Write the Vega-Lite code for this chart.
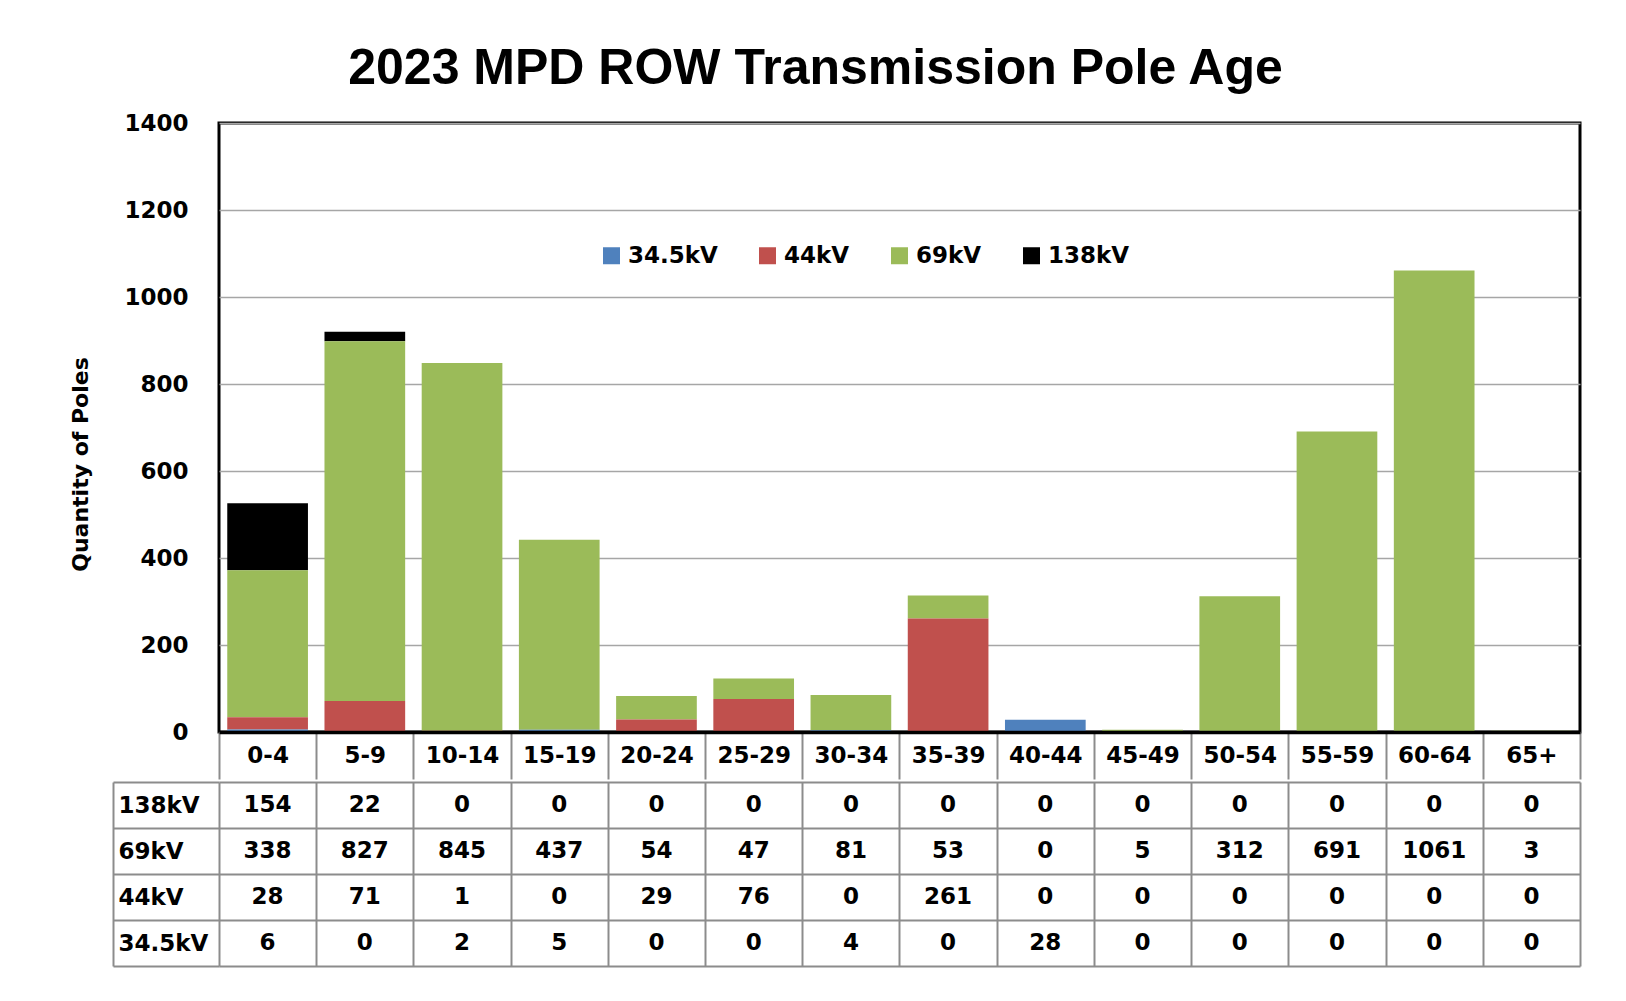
{
  "$schema": "https://vega.github.io/schema/vega-lite/v6.json",
  "background": "white",
  "padding": {"left": 68, "top": 43, "right": 40, "bottom": 20},
  "title": {"text": "2023 MPD ROW Transmission Pole Age", "font": "Liberation Sans", "fontSize": 50, "fontWeight": "bold", "color": "#000000", "anchor": "middle", "offset": 17, "dx": -10},
  "spacing": -15,
  "config": {"view": {"stroke": null}, "font": "DejaVu Sans"},
  "data": {"values": [
    {"age": "0-4", "series": "138kV", "value": 154}, {"age": "0-4", "series": "69kV", "value": 338}, {"age": "0-4", "series": "44kV", "value": 28}, {"age": "0-4", "series": "34.5kV", "value": 6},
    {"age": "5-9", "series": "138kV", "value": 22}, {"age": "5-9", "series": "69kV", "value": 827}, {"age": "5-9", "series": "44kV", "value": 71}, {"age": "5-9", "series": "34.5kV", "value": 0},
    {"age": "10-14", "series": "138kV", "value": 0}, {"age": "10-14", "series": "69kV", "value": 845}, {"age": "10-14", "series": "44kV", "value": 1}, {"age": "10-14", "series": "34.5kV", "value": 2},
    {"age": "15-19", "series": "138kV", "value": 0}, {"age": "15-19", "series": "69kV", "value": 437}, {"age": "15-19", "series": "44kV", "value": 0}, {"age": "15-19", "series": "34.5kV", "value": 5},
    {"age": "20-24", "series": "138kV", "value": 0}, {"age": "20-24", "series": "69kV", "value": 54}, {"age": "20-24", "series": "44kV", "value": 29}, {"age": "20-24", "series": "34.5kV", "value": 0},
    {"age": "25-29", "series": "138kV", "value": 0}, {"age": "25-29", "series": "69kV", "value": 47}, {"age": "25-29", "series": "44kV", "value": 76}, {"age": "25-29", "series": "34.5kV", "value": 0},
    {"age": "30-34", "series": "138kV", "value": 0}, {"age": "30-34", "series": "69kV", "value": 81}, {"age": "30-34", "series": "44kV", "value": 0}, {"age": "30-34", "series": "34.5kV", "value": 4},
    {"age": "35-39", "series": "138kV", "value": 0}, {"age": "35-39", "series": "69kV", "value": 53}, {"age": "35-39", "series": "44kV", "value": 261}, {"age": "35-39", "series": "34.5kV", "value": 0},
    {"age": "40-44", "series": "138kV", "value": 0}, {"age": "40-44", "series": "69kV", "value": 0}, {"age": "40-44", "series": "44kV", "value": 0}, {"age": "40-44", "series": "34.5kV", "value": 28},
    {"age": "45-49", "series": "138kV", "value": 0}, {"age": "45-49", "series": "69kV", "value": 5}, {"age": "45-49", "series": "44kV", "value": 0}, {"age": "45-49", "series": "34.5kV", "value": 0},
    {"age": "50-54", "series": "138kV", "value": 0}, {"age": "50-54", "series": "69kV", "value": 312}, {"age": "50-54", "series": "44kV", "value": 0}, {"age": "50-54", "series": "34.5kV", "value": 0},
    {"age": "55-59", "series": "138kV", "value": 0}, {"age": "55-59", "series": "69kV", "value": 691}, {"age": "55-59", "series": "44kV", "value": 0}, {"age": "55-59", "series": "34.5kV", "value": 0},
    {"age": "60-64", "series": "138kV", "value": 0}, {"age": "60-64", "series": "69kV", "value": 1061}, {"age": "60-64", "series": "44kV", "value": 0}, {"age": "60-64", "series": "34.5kV", "value": 0},
    {"age": "65+", "series": "138kV", "value": 0}, {"age": "65+", "series": "69kV", "value": 3}, {"age": "65+", "series": "44kV", "value": 0}, {"age": "65+", "series": "34.5kV", "value": 0}
  ]},
  "vconcat": [
    {
      "width": 1361,
      "height": 609,
      "view": {"stroke": "#000000", "strokeWidth": 3},
      "transform": [{"calculate": "indexof(['34.5kV', '44kV', '69kV', '138kV'], datum.series)", "as": "stackOrder"}],
      "mark": {"type": "bar", "width": {"band": 0.83}},
      "encoding": {
        "x": {
          "field": "age", "type": "nominal",
          "sort": ["0-4", "5-9", "10-14", "15-19", "20-24", "25-29", "30-34", "35-39", "40-44", "45-49", "50-54", "55-59", "60-64", "65+"],
          "scale": {"paddingInner": 0, "paddingOuter": 0},
          "axis": {"title": null, "orient": "bottom", "zindex": 1, "tickBand": "extent", "tickSize": 47, "tickColor": "#8c8c8c", "tickWidth": 2, "domain": true, "domainColor": "#000000", "domainWidth": 3.5, "labelAngle": 0, "labelPadding": -23.5, "labelBaseline": "middle", "labelFont": "DejaVu Sans", "labelFontSize": 23, "labelFontWeight": "bold", "labelColor": "#000000", "grid": false}
        },
        "y": {
          "field": "value", "type": "quantitative", "stack": "zero",
          "scale": {"domain": [0, 1400], "nice": false},
          "axis": {"title": "Quantity of Poles", "values": [0, 200, 400, 600, 800, 1000, 1200, 1400], "format": "d", "domain": false, "ticks": false, "labelPadding": 31, "labelFlush": false, "labelFont": "DejaVu Sans", "labelFontSize": 23, "labelFontWeight": "bold", "labelColor": "#000000", "grid": true, "gridColor": "#a6a6a6", "gridWidth": 1.5, "titleFont": "DejaVu Sans", "titleFontSize": 22, "titleFontWeight": "bold", "titleColor": "#000000", "titlePadding": 31, "titleY": 341}
        },
        "order": {"field": "stackOrder", "type": "quantitative", "sort": "ascending"},
        "color": {
          "field": "series", "type": "nominal",
          "sort": ["34.5kV", "44kV", "69kV", "138kV"],
          "scale": {"domain": ["34.5kV", "44kV", "69kV", "138kV"], "range": ["#4f81bd", "#c0504d", "#9bbb59", "#000000"]},
          "legend": {"orient": "none", "legendX": 381, "legendY": 121, "direction": "horizontal", "columns": 4, "title": null, "symbolType": "square", "symbolSize": 289, "symbolStrokeWidth": 0, "labelFont": "DejaVu Sans", "labelFontSize": 23, "labelFontWeight": "bold", "labelColor": "#000000", "columnPadding": 38, "labelOffset": 5}
        }
      }
    },
    {
      "width": 1361,
      "height": 184,
      "view": {"stroke": null},
      "mark": {"type": "text", "font": "DejaVu Sans", "fontSize": 23, "fontWeight": "bold", "color": "#000000", "baseline": "middle"},
      "encoding": {
        "x": {
          "field": "age", "type": "nominal",
          "sort": ["0-4", "5-9", "10-14", "15-19", "20-24", "25-29", "30-34", "35-39", "40-44", "45-49", "50-54", "55-59", "60-64", "65+"],
          "scale": {"paddingInner": 0, "paddingOuter": 0},
          "axis": {"title": null, "labels": false, "ticks": false, "domain": false, "grid": true, "tickBand": "extent", "gridColor": "#8c8c8c", "gridWidth": 2, "gridOpacity": 1}
        },
        "y": {
          "field": "series", "type": "nominal",
          "sort": ["138kV", "69kV", "44kV", "34.5kV"],
          "scale": {"paddingInner": 0, "paddingOuter": 0},
          "axis": {"title": null, "orient": "left", "offset": 106, "domain": true, "domainColor": "#8c8c8c", "domainWidth": 2, "ticks": true, "tickSize": -106, "tickColor": "#8c8c8c", "tickWidth": 2, "tickBand": "extent", "grid": true, "gridColor": "#8c8c8c", "gridWidth": 2, "gridOpacity": 1, "labelAlign": "left", "labelPadding": 101, "labelBaseline": "middle", "labelFont": "DejaVu Sans", "labelFontSize": 23, "labelFontWeight": "bold", "labelColor": "#000000"}
        },
        "text": {"field": "value", "type": "quantitative"}
      }
    }
  ]
}
